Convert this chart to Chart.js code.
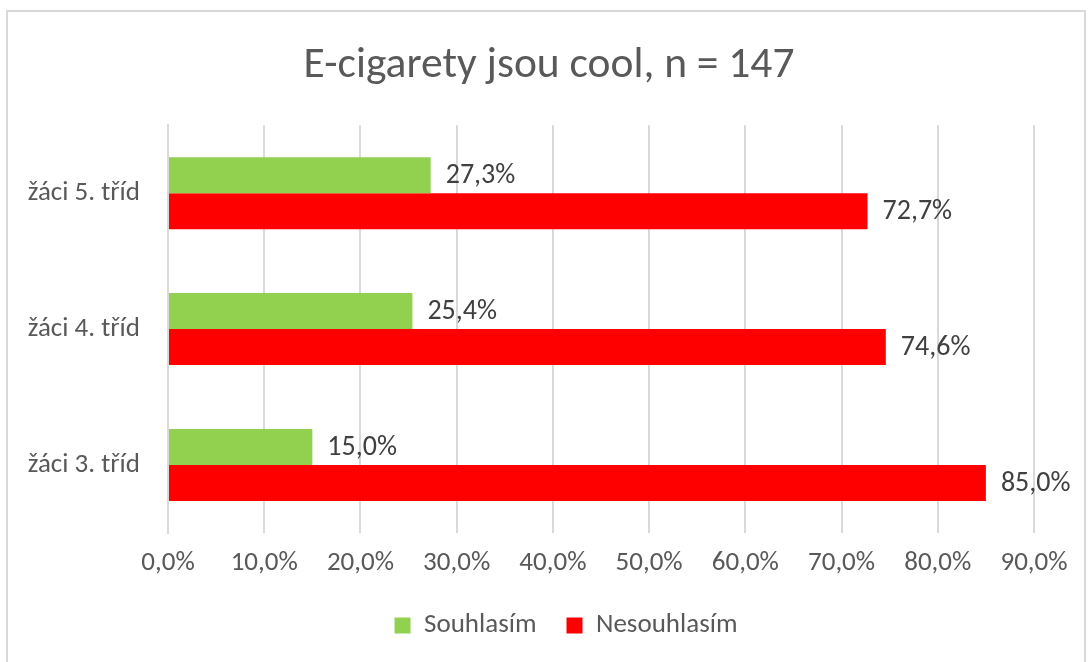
<!DOCTYPE html>
<html>
<head>
<meta charset="utf-8">
<script src="https://cdn.jsdelivr.net/npm/chart.js@4.4.1/dist/chart.umd.min.js"></script>
<style>
  html, body { margin: 0; background: #fff; overflow: hidden; }
  #frame {
    position: absolute; left: 6px; top: 10px; width: 1080px; height: 660px;
    border: 2px solid #d9d9d9; box-sizing: border-box;
  }
  #wrap { position: absolute; left: 0; top: 0; width: 1091px; height: 649px; }
</style>
</head>
<body>
<div id="frame"></div>
<div id="wrap"><canvas id="myChart"></canvas></div>
<script>
// categories and values
const categories = ["žáci 5. tříd", "žáci 4. tříd", "žáci 3. tříd"];
const agreeValues = [27.3, 25.4, 15.0];
const disagreeValues = [72.7, 74.6, 85.0];
const seriesNames = ["Souhlasím", "Nesouhlasím"];

const fontFamily = "Carlito, 'Open Sans', sans-serif";

// format like 27,3%
function pct(v) {
  return v.toFixed(1).replace(".", ",") + "%";
}

// plugin:: value labels at bar ends
const valueLabels = {
  id: "valueLabels",
  afterDatasetsDraw(chart) {
    const c = chart.ctx;
    c.save();
    c.font = "28px " + fontFamily;
    c.fillStyle = "#404040";
    c.textBaseline = "middle";
    c.textAlign = "left";
    chart.data.datasets.forEach((ds, i) => {
      chart.getDatasetMeta(i).data.forEach((bar, j) => {
        c.fillText(pct(ds.data[j]), bar.x + 15, bar.y + 1);
      });
    });
    c.restore();
  },
};

// plugin:: center title and legend on the whole frame, not on the padded box
const recenter = {
  id: "recenter",
  afterLayout(chart) {
    if (chart.titleBlock) {
      chart.titleBlock.left += 22;
      chart.titleBlock.right += 22;
    }
    if (chart.legend) {
      chart.legend.left += 39;
      chart.legend.right += 39;
    }
  },
};

new Chart(document.getElementById("myChart"), {
  type: "bar",
  data: {
    labels: categories,
    datasets: [
      {
        label: seriesNames[0],
        data: agreeValues,
        backgroundColor: "#92d050",
        barPercentage: 1,
        categoryPercentage: 0.53,
      },
      {
        label: seriesNames[1],
        data: disagreeValues,
        backgroundColor: "#ff0000",
        barPercentage: 1,
        categoryPercentage: 0.53,
      },
    ],
  },
  options: {
    indexAxis: "y",
    responsive: true,
    maintainAspectRatio: false,
    animation: false,
    layout: { padding: { left: 20, right: 57, top: 40, bottom: 0 } },
    scales: {
      x: {
        min: 0,
        max: 90,
        ticks: {
          stepSize: 10,
          color: "#595959",
          font: { size: 27, family: fontFamily },
          padding: 14,
          callback: (v) => pct(v),
        },
        grid: { color: "#d9d9d9", lineWidth: 2, drawTicks: false },
        border: { display: false },
        afterFit(scale) {
          scale.height = 49;
        },
      },
      y: {
        ticks: {
          color: "#595959",
          font: { size: 27, family: fontFamily },
          padding: 20,
        },
        grid: { display: false },
        border: { display: true, color: "#d9d9d9", width: 2 },
        afterFit(scale) {
          scale.width = 148;
        },
      },
    },
    plugins: {
      title: {
        display: true,
        text: "E-cigarety jsou cool, n = 147",
        color: "#595959",
        font: { size: 43.5, weight: "normal", family: fontFamily },
        padding: { top: 0, bottom: 33 },
      },
      legend: {
        position: "bottom",
        labels: {
          color: "#595959",
          font: { size: 27, family: fontFamily },
          boxWidth: 16,
          boxHeight: 16,
          padding: 30,
        },
      },
      tooltip: { enabled: false },
    },
  },
  plugins: [valueLabels, recenter],
});
</script>
</body>
</html>
